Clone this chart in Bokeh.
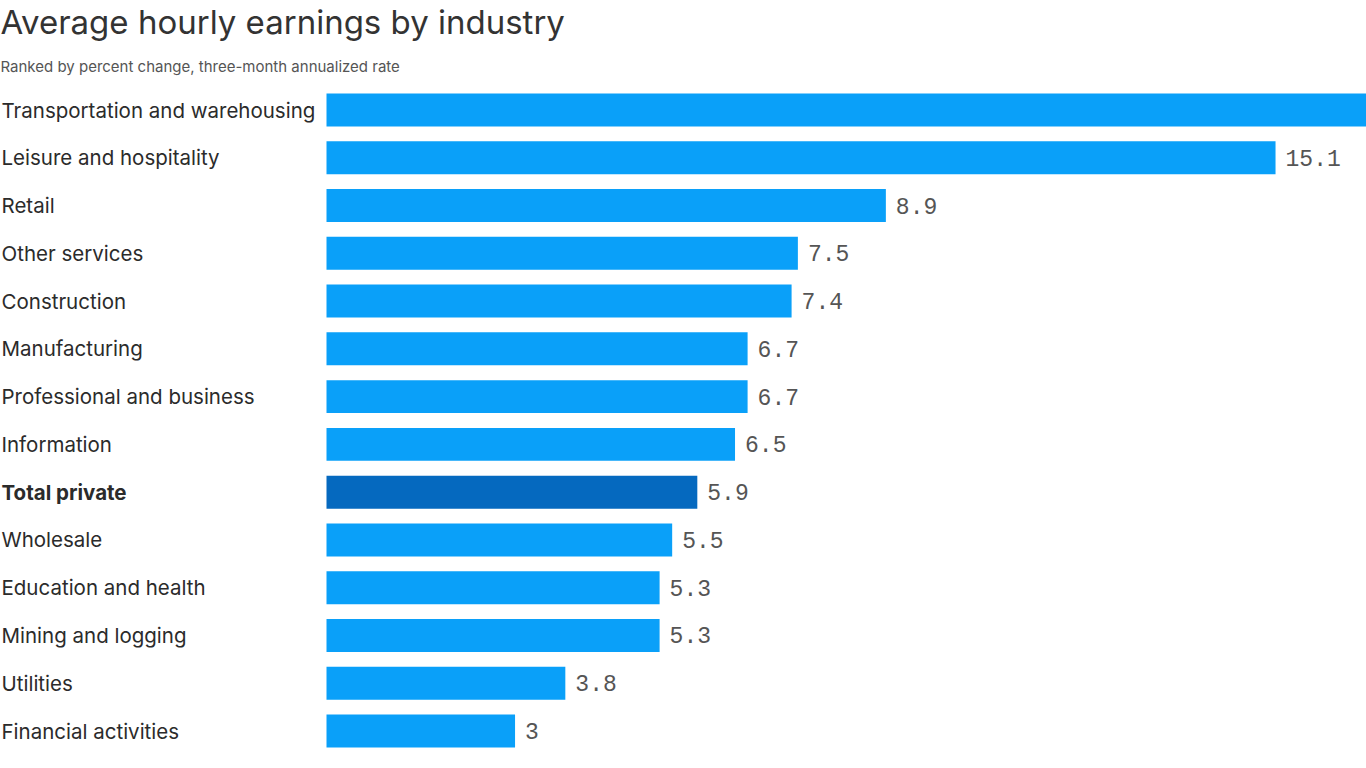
from bokeh.plotting import figure
from bokeh.models import ColumnDataSource, Label, Range1d
from bokeh.core.properties import value
from bokeh.embed import file_html
from bokeh.resources import INLINE

categories = ["Transportation and warehousing", "Leisure and hospitality", "Retail",
              "Other services", "Construction", "Manufacturing", "Professional and business",
              "Information", "Total private", "Wholesale", "Education and health",
              "Mining and logging", "Utilities", "Financial activities"]
values = [17.8, 15.1, 8.9, 7.5, 7.4, 6.7, 6.7, 6.5, 5.9, 5.5, 5.3, 5.3, 3.8, 3.0]
highlight = "Total private"

W, H = 1366, 764
LEFT_PX = 326          # pixel where bars start
PX_PER_UNIT = 62.85
ROW_PX = 47.77
TOP_CENTER_PX = 109.5  # centre of first bar, from top

n = len(categories)
ys = [n - 1 - i for i in range(n)]
x_start = -LEFT_PX / PX_PER_UNIT
x_end = (W - LEFT_PX) / PX_PER_UNIT
y_top = (n - 1) + TOP_CENTER_PX / ROW_PX
y_bot = y_top - H / ROW_PX

label_gap = 10 / PX_PER_UNIT
lab = []
for v in values:
    # labels that would fall beyond the visible right edge are not shown (as in the reference)
    lab.append("%g" % v if v + label_gap + 60 / PX_PER_UNIT < x_end else "")

src = ColumnDataSource(dict(
    y=ys,
    v=values,
    cat=categories,
    color=["#0569bf" if c == highlight else "#0aa0f9" for c in categories],
    style=["bold" if c == highlight else "normal" for c in categories],
    lab=lab,
    lx=[v + label_gap for v in values],
    catx=[x_start + 1 / PX_PER_UNIT] * n,
))

p = figure(width=W, height=H, output_backend="svg", toolbar_location=None,
           x_range=Range1d(x_start, x_end), y_range=Range1d(y_bot, y_top),
           min_border=0, min_border_left=0, min_border_right=0,
           min_border_top=0, min_border_bottom=0)
p.axis.visible = False
p.grid.visible = False
p.outline_line_color = None
p.background_fill_color = "white"
p.border_fill_color = "white"

p.hbar(y="y", left=0, right="v", height=0.69, fill_color="color", line_color=None, source=src)

p.text(x="catx", y="y", text="cat", source=src, text_align="left", text_baseline="middle",
       text_font=value("Inter"), text_font_size="20.5px", text_color="#2b2b2b",
       text_font_style="style")

p.text(x="lx", y="y", text="lab", source=src, text_align="left", text_baseline="middle",
       text_font=value("Liberation Mono"), text_font_size="23px", text_color="#555555")

p.add_layout(Label(x=0, y=H - 21, x_units="screen", y_units="screen",
                   text="Average hourly earnings by industry", text_font="Inter",
                   text_font_size="33px", text_color="#333333", text_baseline="middle",
                   text_align="left"))
p.add_layout(Label(x=0, y=H - 66, x_units="screen", y_units="screen",
                   text="Ranked by percent change, three-month annualized rate", text_font="Inter",
                   text_font_size="15px", text_color="#555555", text_baseline="middle",
                   text_align="left"))

open("out.html", "w").write(file_html(p, INLINE))
